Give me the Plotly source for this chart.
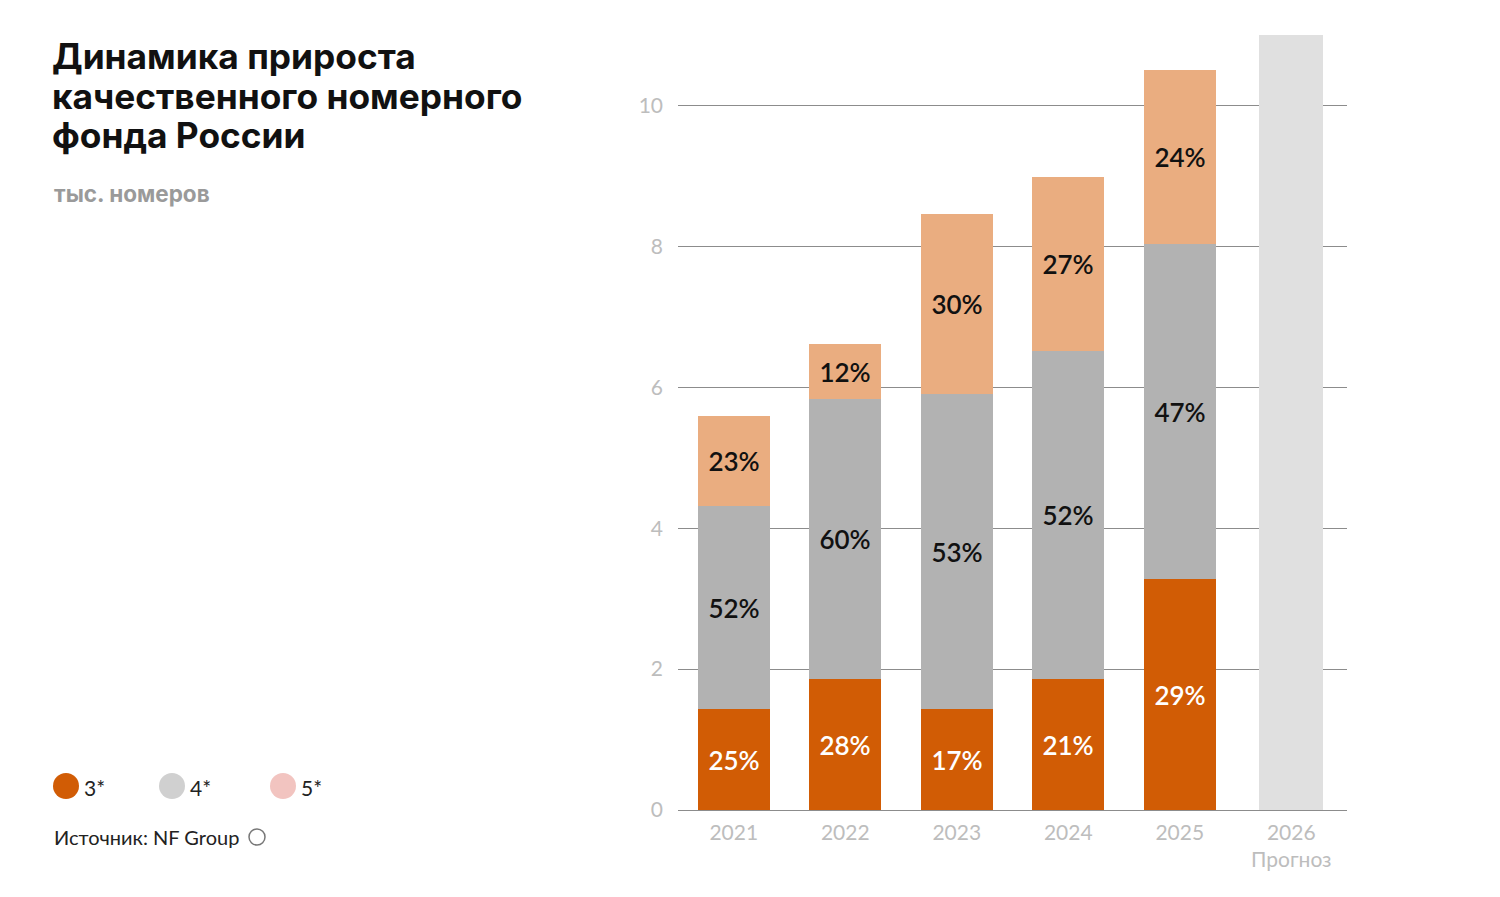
import plotly.graph_objects as go

# ==========================================
# DATA (тыс. номеров)
# ==========================================
years = ["2021", "2022", "2023", "2024", "2025"]
forecast_year = "2026"
year_ticks = ["2021", "2022", "2023", "2024", "2025", "2026<br>Прогноз"]

stars_3 = [1.43, 1.86, 1.43, 1.86, 3.28]
stars_4 = [2.88, 3.97, 4.48, 4.65, 4.76]
stars_5 = [1.29, 0.79, 2.55, 2.48, 2.46]
forecast_total = [11.0]

pct_3 = ["25%", "28%", "17%", "21%", "29%"]
pct_4 = ["52%", "60%", "53%", "52%", "47%"]
pct_5 = ["23%", "12%", "30%", "27%", "24%"]

legend_names = ["3*", "4*", "5*"]
y_ticks = [0, 2, 4, 6, 8, 10]

title_lines = ["Динамика прироста", "качественного номерного", "фонда России"]

# ==========================================
# STYLE
# ==========================================
ORANGE = "#D15C05"
GREY = "#B2B2B2"
PEACH = "#EAAD80"
FORECAST = "#E0E0E0"
LEGEND_COLORS = ["#D15C05", "#D0D0D0", "#F2C4C0"]
TICK_GREY = "#BDBDBD"
NUM_FONT = "Lato"
HEAD_FONT = "Inter"

# page is drawn with an 8px body margin, so everything is shifted by OFF
OFF = 8
W, H = 1500, 897
L, R, T, B = 678 - OFF, W - 1347 + OFF, 21 - OFF, H - 810 + OFF
PW, PH = W - L - R, H - T - B


def px(x):
    return (x - OFF - L) / PW


def py(y):
    return (H - B - (y - OFF)) / PH


fig = go.Figure()

for vals, txt, color, tcolor in [
    (stars_3, pct_3, ORANGE, "white"),
    (stars_4, pct_4, GREY, "#111"),
    (stars_5, pct_5, PEACH, "#111"),
]:
    fig.add_trace(go.Bar(
        x=years, y=vals, text=txt, width=0.65,
        marker=dict(color=color, line_width=0),
        textposition="inside", insidetextanchor="middle", textangle=0,
        textfont=dict(family=NUM_FONT, size=26, color=tcolor, weight=600),
        hoverinfo="skip", showlegend=False,
    ))

fig.add_trace(go.Bar(
    x=[forecast_year], y=forecast_total, width=0.575,
    marker=dict(color=FORECAST, line_width=0),
    hoverinfo="skip", showlegend=False,
))

annotations = []
for line, ty in zip(title_lines, [57, 96, 135]):
    annotations.append(dict(text=line, x=px(50), y=py(ty), xanchor="left", yanchor="middle",
                            font=dict(family=HEAD_FONT, size=35.3, color="#111", weight=700)))

annotations += [
    dict(text="тыс. номеров", x=px(52), y=py(193), xanchor="left", yanchor="middle",
         font=dict(family=HEAD_FONT, size=22.5, color="#9A9A9A", weight=700)),
    dict(text="Источник: NF Group", x=px(52), y=py(837), xanchor="left", yanchor="middle",
         font=dict(family=NUM_FONT, size=20, color="#222")),
]

shapes = []
legend_x = [66, 172, 283]
for name, color, cx in zip(legend_names, LEGEND_COLORS, legend_x):
    shapes.append(dict(type="circle", xref="paper", yref="paper",
                       xsizemode="pixel", ysizemode="pixel",
                       xanchor=px(cx), yanchor=py(786),
                       x0=-13, x1=13, y0=-13, y1=13,
                       fillcolor=color, line_width=0))
    annotations.append(dict(text=name, x=px(cx + 16), y=py(787), xanchor="left", yanchor="middle",
                            font=dict(family=NUM_FONT, size=21, color="#222")))

# little logo after the source text
shapes.append(dict(type="circle", xref="paper", yref="paper",
                   xsizemode="pixel", ysizemode="pixel",
                   xanchor=px(257), yanchor=py(837),
                   x0=-8, x1=8, y0=-8, y1=8,
                   fillcolor="white", line=dict(color="#777", width=1.5)))

for a in annotations:
    a.update(xref="paper", yref="paper", showarrow=False)

fig.update_layout(
    width=W, height=H, barmode="stack",
    margin=dict(l=L, r=R, t=T, b=B),
    plot_bgcolor="white", paper_bgcolor="white",
    annotations=annotations, shapes=shapes,
    xaxis=dict(type="category", categoryorder="array", categoryarray=years + [forecast_year],
               range=[-0.5, 5.5], tickvals=years + [forecast_year], ticktext=year_ticks,
               showgrid=False, showline=False, ticks="", ticklabelstandoff=8,
               tickfont=dict(family=NUM_FONT, size=21, color=TICK_GREY)),
    yaxis=dict(range=[0, 11.2], tickvals=y_ticks, showgrid=True, gridcolor="#8C8C8C", gridwidth=1,
               zeroline=True, zerolinecolor="#8C8C8C", zerolinewidth=1,
               ticks="", ticklabelstandoff=14,
               tickfont=dict(family=NUM_FONT, size=21, color=TICK_GREY)),
    bargap=0,
)

fig.write_html("out.html")
